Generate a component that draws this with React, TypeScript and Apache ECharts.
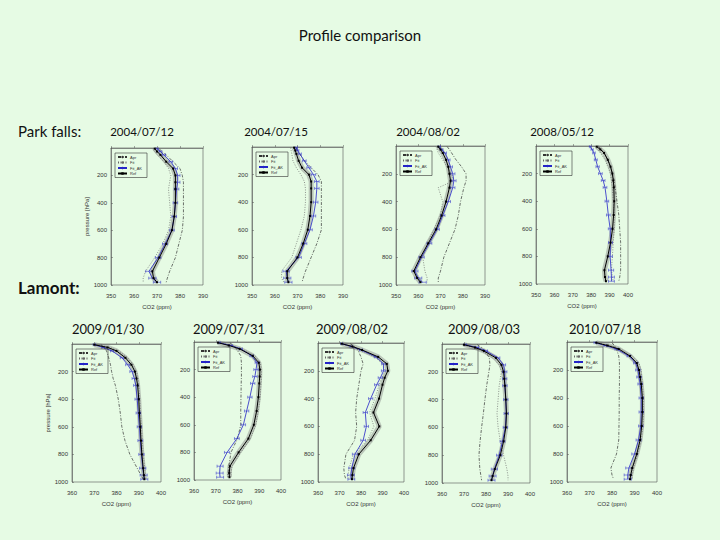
import { useEffect, useRef } from 'react';
import * as echarts from 'echarts';

// pressure levels (hPa) shared by every profile
const LEVELS = [5, 25, 50, 100, 150, 200, 250, 300, 400, 500, 600, 700, 800, 900, 950, 980];
// half width of the Fit_AK error bars (ppm)
const ERR = [0.5, 0.6, 0.7, 0.8, 0.9, 1, 1, 1, 1, 1, 1, 1.1, 1.2, 1.4, 1.6, 1.6];

const SERIES_NAMES = ['Apr', 'Fit', 'Fit_AK', 'Ref'];
const PANEL_DATES = [
  '2004/07/12', '2004/07/15', '2004/08/02', '2008/05/12',
  '2009/01/30', '2009/07/31', '2009/08/02', '2009/08/03', '2010/07/18',
];
const X_MIN = [350, 350, 350, 350, 360, 360, 360, 360, 360];
const X_MAX = [390, 390, 390, 400, 400, 400, 400, 400, 400];

// Park Falls
const ref0712 = [369, 370, 371.5, 374, 377, 378, 378, 378, 378, 377.5, 376.5, 374, 371, 368, 368.5, 370];
const ak0712 = [370, 371.5, 373, 376, 378, 379, 379, 378.5, 378, 377.5, 376.5, 373.5, 370.5, 366.5, 368, 370];
const apr0712 = [371, 372, 374, 377, 380, 381, 381.5, 381.5, 381.5, 381.5, 381, 379.5, 378, 375.5, 374.5, 374];
const fit0712 = [368, 369, 370, 373, 375, 376, 375.5, 375, 375.5, 376, 375, 372.5, 369, 365, 364, 364];

const ref0715 = [368.5, 369, 369.5, 370.5, 372, 375, 376, 376, 376, 375.5, 374.5, 372.5, 370, 365.5, 365.5, 366];
const ak0715 = [369.5, 370, 371, 373, 375, 377, 378.5, 378.5, 378, 377, 375.5, 373, 370.5, 365, 365.5, 366];
const apr0715 = [369.5, 370, 371, 373, 376, 379, 380.5, 380.5, 380.5, 380.5, 380.5, 378.5, 376, 373.5, 372.5, 372];
const fit0715 = [367, 367.2, 367.5, 368, 369.5, 371.5, 373, 373.5, 373.5, 373, 371.5, 369.5, 367.5, 363, 363, 364];

const ref0802 = [369, 370, 371, 372.5, 373.5, 374, 374.5, 374, 372.5, 370.5, 368, 364.5, 361, 358, 359.5, 361];
const ak0802 = [369.5, 370.5, 372, 373.5, 374.5, 375.5, 376, 375.5, 373.5, 371, 368.5, 365, 361.5, 358.5, 360, 362];
const apr0802 = [373, 374, 375, 377, 379.5, 381.5, 381.5, 380.5, 379, 378, 376.5, 374, 371.5, 370, 369, 369];
const fit0802 = [368, 368.5, 369, 371, 373, 375, 376, 369, 371, 370, 367, 364, 362, 363, 364, 364];

const ref0512 = [383, 385, 387, 389, 390.5, 391.5, 392, 392.3, 392.5, 392.2, 391.6, 390.5, 389, 387.2, 387.5, 388];
const ak0512 = [379.5, 380.5, 381.5, 382.5, 383.5, 385, 386.5, 387.5, 388.5, 389.3, 390.3, 390.5, 390.3, 390.8, 391, 391];
const apr0512 = [384, 385.5, 387, 389, 390.5, 391.5, 392.5, 393, 394, 395, 395.5, 396, 396, 396, 395.5, 395];
const fit0512 = [382, 383.5, 385, 387.5, 389, 390.5, 391, 391.5, 392, 392.5, 392.5, 392, 391.5, 391, 391.5, 392];

// Lamont
const ref0130 = [370, 376, 380, 384, 386.7, 388.3, 389, 389.5, 390, 390.3, 390.7, 391, 391.4, 392, 392.3, 392.5];
const ak0130 = [370, 374, 378, 382.5, 385, 387, 388, 388.7, 389.3, 389.8, 390.3, 390.7, 391.2, 391.8, 392.2, 392.5];
const apr0130 = [373, 374.5, 375.5, 376.5, 377.3, 377.8, 378.5, 379.5, 380.8, 381.7, 382.4, 383.8, 386, 389.3, 391, 392];
const fit0130 = [371, 377, 381, 385, 387.5, 389, 389.7, 390, 390.5, 390.8, 391.2, 391.6, 392, 392.7, 393, 393.3];

const ref0731 = [371, 376, 381, 387, 389.8, 390.3, 390.2, 390, 389.6, 388.8, 387.5, 385, 380.5, 376.5, 376.2, 376.3];
const ak0731 = [371.5, 377, 381.5, 386.5, 389, 388.5, 388, 387, 385.7, 384.2, 382.7, 379.7, 375.2, 372, 371.8, 372];
const apr0731 = [376.5, 378, 379.5, 381.5, 381.8, 381.8, 381.8, 381.7, 381.6, 381.5, 381.5, 380, 377, 376, 375.7, 375.5];
const fit0731 = [372, 377, 382, 388, 390.5, 391, 391, 390.8, 390.4, 389.6, 388.4, 386, 381.5, 377.5, 377, 377];

const ref0802b = [371, 376, 380.5, 388, 392, 392.5, 391, 390, 388.4, 385.8, 388.5, 384.5, 379, 376.5, 376, 375.8];
const ak0802b = [371, 375.5, 380, 387, 390.5, 390.5, 389, 387.3, 384.5, 382, 382.5, 381, 377.2, 375.7, 375.3, 375.5];
const apr0802b = [375, 377, 378.5, 380, 381, 380, 379.5, 379, 378, 377.5, 378, 377, 373, 372, 372.3, 373];
const fit0802b = [370.5, 375, 379.5, 386.5, 390, 391, 389.5, 388.5, 386.5, 384, 386, 383, 376.5, 374.5, 374, 374];

const ref0803 = [370, 375, 379, 384.5, 387, 388, 388.3, 388.6, 389, 389.3, 389, 388, 386.5, 384, 383, 382.5];
const ak0803 = [370.5, 376, 380, 385.5, 388, 388.5, 388.5, 388.6, 389, 389.2, 388.8, 387.5, 386, 383.8, 383, 382.5];
const apr0803 = [376, 378, 379.5, 381.5, 381.8, 381.3, 380.8, 380.3, 379.5, 378.8, 378, 377.3, 376.8, 377.2, 377.7, 378];
const fit0803 = [369, 374, 378, 383, 386, 387, 386.5, 386, 385.5, 385, 385.5, 386.5, 388, 389.5, 390, 390];

const ref0718 = [373, 378, 383, 388, 391, 392, 392.5, 393, 393.5, 393.5, 393.2, 392.5, 391, 389, 388.3, 388];
const ak0718 = [372.5, 377, 382, 387.5, 390.5, 391.5, 392, 392.5, 393, 393, 392.8, 391.8, 390, 387.5, 387, 387];
const apr0718 = [380, 381, 382, 383, 383.3, 383.3, 383.3, 383.3, 383.2, 383.2, 383.1, 383, 382, 379.5, 380, 380.7];
const fit0718 = [374, 379, 384, 389, 392, 393, 393.2, 393.5, 394, 394, 393.8, 393, 391.5, 389.5, 389, 389];

const REF = [ref0712, ref0715, ref0802, ref0512, ref0130, ref0731, ref0802b, ref0803, ref0718];
const AK = [ak0712, ak0715, ak0802, ak0512, ak0130, ak0731, ak0802b, ak0803, ak0718];
const APR = [apr0712, apr0715, apr0802, apr0512, apr0130, apr0731, apr0802b, apr0803, apr0718];
const FIT = [fit0712, fit0715, fit0802, fit0512, fit0130, fit0731, fit0802b, fit0803, fit0718];

// plot boxes in page pixels
const BOXES = [
  { left: 111, top: 148, width: 92, height: 137 },
  { left: 252, top: 147, width: 91, height: 138 },
  { left: 396, top: 146, width: 89, height: 139 },
  { left: 536, top: 146, width: 92, height: 138 },
  { left: 72, top: 344, width: 89, height: 138 },
  { left: 194, top: 342, width: 87, height: 138 },
  { left: 318, top: 343, width: 86, height: 139 },
  { left: 442, top: 344, width: 88, height: 139 },
  { left: 567, top: 342, width: 90, height: 140 },
];
const DATE_X = [142, 276, 428, 562, 108, 229, 352, 484, 605];

const BLUE = '#2424c8';
const FONT = 'Liberation Sans';
const SLIDE_FONT = 'Lato';

const pairs = (xs: number[]) => xs.map((x, i) => [x, LEVELS[i]]);

function buildOption(): echarts.EChartsOption {
  const grid: any[] = [];
  const xAxis: any[] = [];
  const yAxis: any[] = [];
  const legend: any[] = [];
  const series: any[] = [];

  BOXES.forEach((b, i) => {
    grid.push({ ...b, show: true, borderColor: '#555', borderWidth: 0.6, backgroundColor: 'transparent' });
    xAxis.push({
      gridIndex: i,
      type: 'value',
      min: X_MIN[i],
      max: X_MAX[i],
      interval: 10,
      name: 'CO2 (ppm)',
      nameLocation: 'middle',
      nameGap: 19,
      nameTextStyle: { fontSize: 6, color: '#333', fontFamily: FONT },
      axisLine: { show: true, lineStyle: { color: '#555', width: 0.6 } },
      axisTick: { show: true, inside: true, length: 2, lineStyle: { color: '#555', width: 0.5 } },
      axisLabel: { fontSize: 6, color: '#333', margin: 8, fontFamily: FONT },
      splitLine: { show: false },
    });
    const withName = i === 0 || i === 4;
    yAxis.push({
      gridIndex: i,
      type: 'value',
      inverse: true,
      min: 0,
      max: 1000,
      interval: 200,
      name: withName ? 'pressure [hPa]' : '',
      nameLocation: 'middle',
      nameGap: 18,
      nameRotate: 90,
      nameTextStyle: { fontSize: 6, color: '#333', fontFamily: FONT },
      axisLine: { show: true, lineStyle: { color: '#555', width: 0.6 } },
      axisTick: { show: true, inside: true, length: 2, lineStyle: { color: '#555', width: 0.5 } },
      axisLabel: {
        fontSize: 6,
        color: '#333',
        margin: 4,
        showMinLabel: false,
        fontFamily: FONT,
        formatter: (v: number) => String(v),
      },
      splitLine: { show: false },
    });
    legend.push({
      left: b.left + 4,
      top: b.top + 5,
      orient: 'vertical',
      data: SERIES_NAMES,
      itemWidth: 9,
      itemHeight: 3,
      itemGap: 1.5,
      padding: [2, 5, 2, 2],
      borderColor: '#333',
      borderWidth: 0.6,
      selectedMode: false,
      textStyle: { fontSize: 4, color: '#333', padding: [0, 0, 0, -2], fontFamily: FONT },
    });

    const common = { xAxisIndex: i, yAxisIndex: i, symbol: 'none', silent: true };
    series.push({
      ...common,
      name: 'band',
      type: 'line',
      data: pairs(REF[i]),
      lineStyle: { color: 'rgba(120,120,120,0.4)', width: 5 },
      z: 1,
    });
    series.push({
      ...common,
      name: 'Apr',
      type: 'line',
      data: pairs(APR[i]),
      lineStyle: { color: '#333', width: 0.7, type: [3, 1.5, 1, 1.5] },
      itemStyle: { color: '#333' },
      z: 2,
    });
    series.push({
      ...common,
      name: 'Fit',
      type: 'line',
      data: pairs(FIT[i]),
      lineStyle: { color: '#666', width: 0.7, type: [1, 1.5] },
      itemStyle: { color: '#666' },
      z: 2,
    });
    series.push({
      ...common,
      name: 'Fit_AK',
      type: 'line',
      data: pairs(AK[i]),
      lineStyle: { color: BLUE, width: 0.8 },
      itemStyle: { color: BLUE },
      z: 3,
    });
    series.push({
      xAxisIndex: i,
      yAxisIndex: i,
      silent: true,
      name: 'err',
      type: 'custom',
      z: 3,
      encode: { x: 0, y: 1 },
      data: AK[i].map((x, k) => [x, LEVELS[k], ERR[k]]),
      renderItem: (_p: any, api: any) => {
        const x = api.value(0);
        const y = api.value(1);
        const e = api.value(2);
        const a = api.coord([x - e, y]);
        const c = api.coord([x + e, y]);
        const st = { stroke: BLUE, lineWidth: 0.5 };
        return {
          type: 'group',
          children: [
            { type: 'line', shape: { x1: a[0], y1: a[1], x2: c[0], y2: c[1] }, style: st },
            { type: 'line', shape: { x1: a[0], y1: a[1] - 1.5, x2: a[0], y2: a[1] + 1.5 }, style: st },
            { type: 'line', shape: { x1: c[0], y1: c[1] - 1.5, x2: c[0], y2: c[1] + 1.5 }, style: st },
          ],
        };
      },
    });
    series.push({
      xAxisIndex: i,
      yAxisIndex: i,
      silent: true,
      name: 'Ref',
      type: 'line',
      data: pairs(REF[i]),
      symbol: 'rect',
      symbolSize: 2,
      showSymbol: true,
      lineStyle: { color: '#000', width: 1 },
      itemStyle: { color: '#000' },
      z: 4,
    });
  });

  const texts: any[] = [
    {
      type: 'text',
      left: 'center',
      top: 27,
      style: { text: 'Profile comparison', font: `15px ${SLIDE_FONT}`, fill: '#111' },
    },
    {
      type: 'text',
      left: 18,
      top: 123,
      style: { text: 'Park falls:', font: `15px ${SLIDE_FONT}`, fill: '#111' },
    },
    {
      type: 'text',
      left: 18,
      top: 279,
      style: { text: 'Lamont:', font: `bold 17px ${SLIDE_FONT}`, fill: '#111' },
    },
  ];
  PANEL_DATES.forEach((d, i) => {
    const top = i < 4;
    texts.push({
      type: 'text',
      x: DATE_X[i],
      y: top ? 131 : 329,
      style: {
        text: d,
        font: `${top ? 11.5 : 13}px ${SLIDE_FONT}`,
        fill: '#111',
        textAlign: 'center',
        textVerticalAlign: 'middle',
      },
    });
  });

  return {
    animation: false,
    backgroundColor: '#e6fbe4',
    grid,
    xAxis,
    yAxis,
    legend,
    series,
    graphic: texts,
  };
}

export default function App() {
  const chartRef = useRef<HTMLDivElement>(null);

  useEffect(() => {
    if (!chartRef.current) return;
    const chart = echarts.init(chartRef.current, undefined, { renderer: 'svg' });
    chart.setOption(buildOption());
    return () => {
      chart.dispose();
    };
  }, []);

  return (
    <div
      ref={chartRef}
      style={{ position: 'fixed', left: 0, top: 0, width: 720, height: 540, background: '#e6fbe4' }}
    />
  );
}
